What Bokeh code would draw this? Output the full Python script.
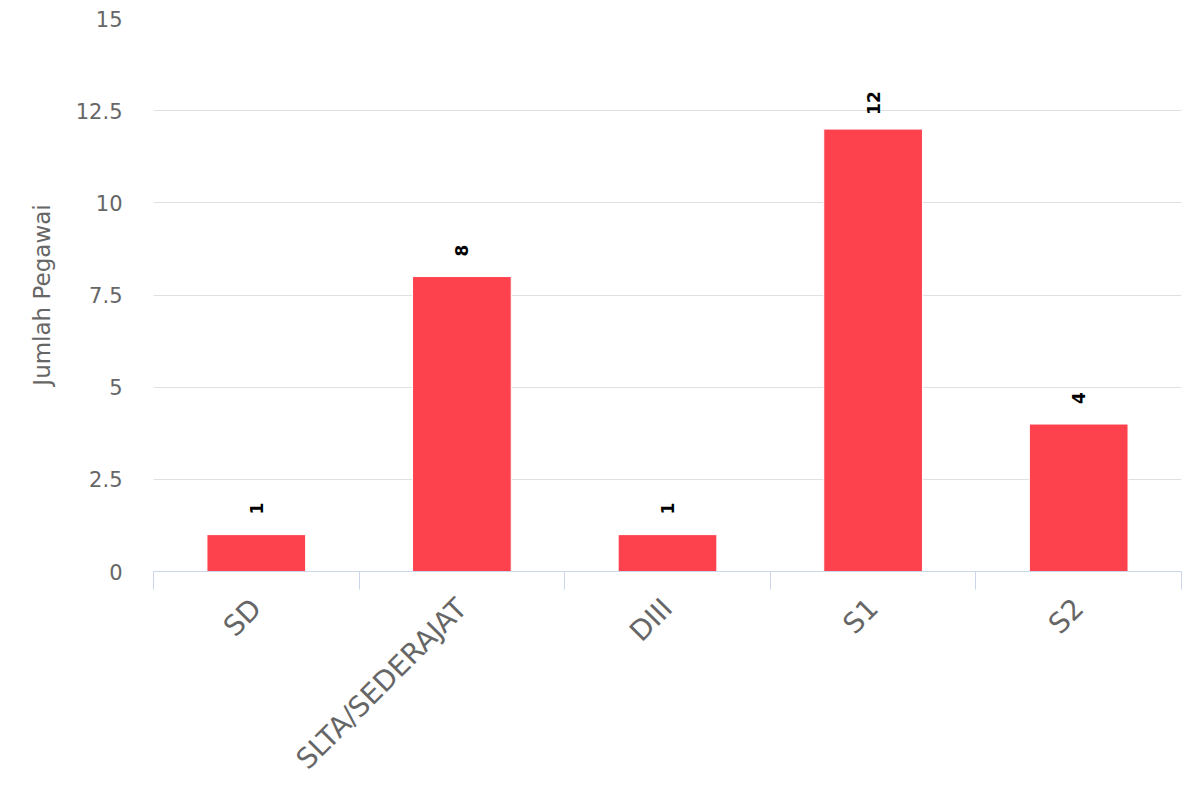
import math
from bokeh.plotting import figure
from bokeh.models import ColumnDataSource, Range1d, FixedTicker
from bokeh.core.properties import value
from bokeh.embed import file_html
from bokeh.resources import INLINE

categories = ["SD", "SLTA/SEDERAJAT", "DIII", "S1", "S2"]
jumlah = [1, 8, 1, 12, 4]
y_ticks = [0, 2.5, 5, 7.5, 10, 12.5, 15]
y_tick_labels = ["0", "2.5", "5", "7.5", "10", "12.5", "15"]

n = len(categories)
centers = [i + 0.5 for i in range(n)]
bounds = [float(i) for i in range(n + 1)]

src = ColumnDataSource(dict(x=centers, top=jumlah, label=[str(v) for v in jumlah]))

FONT = "DejaVu Sans"

p = figure(width=1192, height=790, output_backend="svg", toolbar_location=None,
           x_range=Range1d(0, n), y_range=Range1d(0, 15),
           min_border_left=153, min_border_right=11, min_border_top=18,
           min_border_bottom=218)
p.outline_line_color = None
p.background_fill_color = "white"
p.border_fill_color = "white"

p.vbar(x="x", top="top", width=0.48, bottom=0, source=src,
       fill_color="#fd414d", line_color="white", line_width=1)

p.text(x="x", y="top", text="label", source=src, angle=math.pi / 2,
       text_align="center", text_baseline="middle", y_offset=-26,
       text_font=value(FONT), text_font_style="bold", text_font_size="17px",
       text_color="black")

# x axis
xa = p.xaxis[0]
xa.ticker = FixedTicker(ticks=centers, minor_ticks=bounds)
xa.major_label_overrides = {c: name for c, name in zip(centers, categories)}
xa.major_label_orientation = math.pi / 4
xa.major_label_text_font = FONT
xa.major_label_text_font_size = "28px"
xa.major_label_text_color = "#666666"
xa.major_label_standoff = 14
xa.major_tick_out = 0
xa.major_tick_in = 0
xa.minor_tick_out = 18
xa.minor_tick_in = 0
xa.minor_tick_line_color = "#ccd6eb"
xa.axis_line_color = "#ccd6eb"
xa.axis_line_width = 1

# y axis
ya = p.yaxis[0]
ya.ticker = FixedTicker(ticks=y_ticks, minor_ticks=[])
ya.major_label_overrides = {t: l for t, l in zip(y_ticks, y_tick_labels)}
ya.axis_line_color = None
ya.major_tick_line_color = None
ya.minor_tick_line_color = None
ya.major_tick_out = 0
ya.major_tick_in = 0
ya.major_label_standoff = 31
ya.major_label_text_font = FONT
ya.major_label_text_font_size = "21px"
ya.major_label_text_color = "#666666"
ya.axis_label = "Jumlah Pegawai"
ya.axis_label_text_font = FONT
ya.axis_label_text_font_size = "23px"
ya.axis_label_text_font_style = "normal"
ya.axis_label_text_color = "#666666"
ya.axis_label_standoff = 18

p.xgrid.grid_line_color = None
p.ygrid.grid_line_color = "#e0e0e0"
p.ygrid.grid_line_width = 1

open("out.html", "w").write(file_html(p, INLINE))
